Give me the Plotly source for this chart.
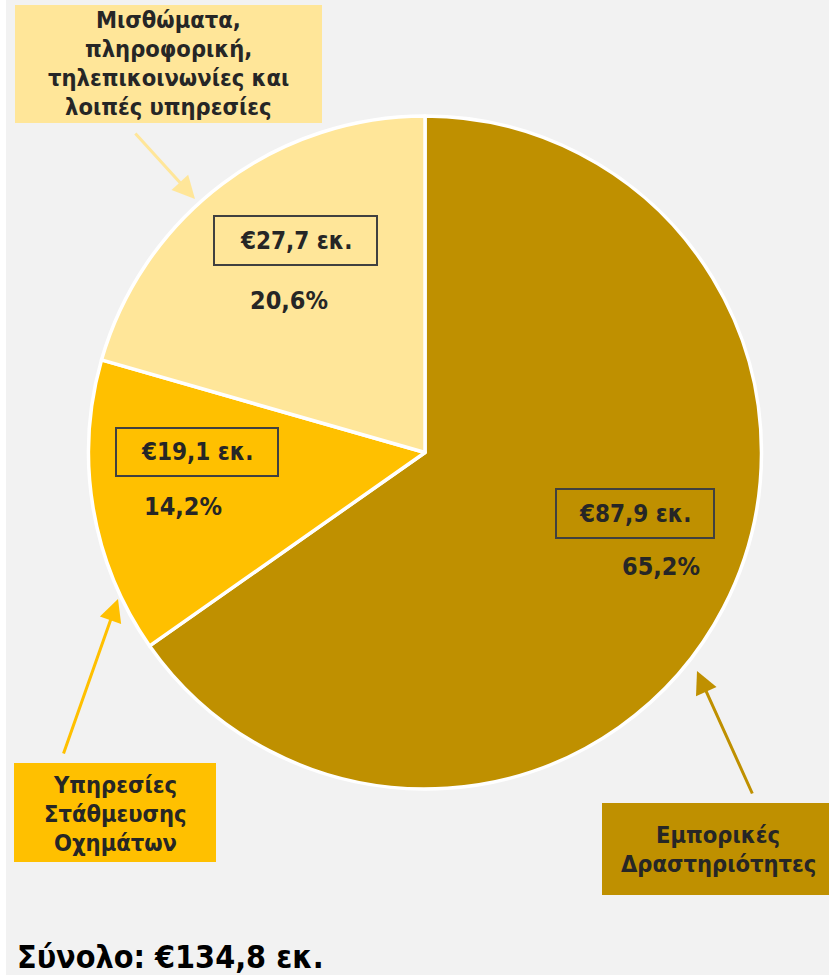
import plotly.graph_objects as go

# ---------------- data ----------------
categories = [
    "Εμπορικές<br>Δραστηριότητες",
    "Υπηρεσίες<br>Στάθμευσης<br>Οχημάτων",
    "Μισθώματα,<br>πληροφορική,<br>τηλεπικοινωνίες και<br>λοιπές υπηρεσίες",
]
values = [87.9, 19.1, 27.7]
amount_labels = ["€87,9 εκ.", "€19,1 εκ.", "€27,7 εκ."]
pct_labels = ["65,2%", "14,2%", "20,6%"]
total_label = "Σύνολο: €134,8 εκ."
colors = ["#BF9000", "#FFC000", "#FFE699"]

# ---------------- layout helpers ----------------
W, H = 829, 975
FONT = "DejaVu Sans Condensed, DejaVu Sans, Verdana, sans-serif"
TXT = "#262626"


def px(x):
    return x / W


def py(y):
    return 1 - y / H


fig = go.Figure()
fig.add_trace(go.Pie(
    labels=[c.replace("<br>", " ") for c in categories],
    values=values,
    sort=False,
    direction="clockwise",
    rotation=0,
    marker=dict(colors=colors, line=dict(color="white", width=3.5)),
    textinfo="none",
    hoverinfo="label+value+percent",
    showlegend=False,
    domain=dict(x=[px(88), px(762)], y=[py(789), py(116)]),
))

shapes = []
annotations = []

# left white strip
shapes.append(dict(type="rect", xref="paper", yref="paper", x0=0, x1=px(6), y0=0, y1=1,
                   fillcolor="white", line=dict(width=0), layer="below"))

# outer category boxes: (x0, y0, x1, y1, text-center x, text-center y)
outer = [
    (602, 803, 829, 895, 718, 849),
    (14, 763, 216, 862, 115, 814),
    (15, 5, 322, 123, 168, 63.5),
]
LINE_GAP = 29
# arrows: (head x, head y, tail x, tail y)
arrows = [
    (697, 671, 753, 795),
    (118, 599, 63, 755),
    (195, 199, 134, 132),
]
# inner amount boxes (x0, y0, x1, y1) and percentage centres
inner = [
    (556, 489, 714, 538),
    (116, 428, 278, 476),
    (214, 216, 377, 265),
]
pct_pos = [(661, 566), (183, 506), (289, 300)]

for i in range(len(values)):
    x0, y0, x1, y1, tx, ty = outer[i]
    shapes.append(dict(type="rect", xref="paper", yref="paper",
                       x0=px(x0), x1=px(x1), y0=py(y1), y1=py(y0),
                       fillcolor=colors[i], line=dict(width=0)))
    lines = categories[i].split("<br>")
    n = len(lines)
    for k, line in enumerate(lines):
        ly = ty + (k - (n - 1) / 2) * LINE_GAP
        annotations.append(dict(xref="paper", yref="paper", x=px(tx), y=py(ly),
                                text=f"<b>{line}</b>", showarrow=False,
                                font=dict(family=FONT, size=23.5, color=TXT),
                                xanchor="center", yanchor="middle"))
    hx, hy, tx2, ty2 = arrows[i]
    annotations.append(dict(xref="paper", yref="paper", x=px(hx), y=py(hy),
                            ax=tx2 - hx, ay=ty2 - hy, text="", showarrow=True,
                            arrowhead=2, arrowsize=1.5, arrowwidth=3,
                            arrowcolor=colors[i], standoff=0))
    bx0, by0, bx1, by1 = inner[i]
    shapes.append(dict(type="rect", xref="paper", yref="paper",
                       x0=px(bx0), x1=px(bx1), y0=py(by1), y1=py(by0),
                       fillcolor="rgba(0,0,0,0)", line=dict(color="#404040", width=2)))
    annotations.append(dict(xref="paper", yref="paper",
                            x=px((bx0 + bx1) / 2), y=py((by0 + by1) / 2),
                            text=f"<b>{amount_labels[i]}</b>", showarrow=False,
                            font=dict(family=FONT, size=24, color=TXT),
                            xanchor="center", yanchor="middle"))
    cx, cy = pct_pos[i]
    annotations.append(dict(xref="paper", yref="paper", x=px(cx), y=py(cy),
                            text=f"<b>{pct_labels[i]}</b>", showarrow=False,
                            font=dict(family=FONT, size=25, color=TXT),
                            xanchor="center", yanchor="middle"))

annotations.append(dict(xref="paper", yref="paper", x=px(15), y=py(957),
                        text=f"<b>{total_label}</b>", showarrow=False,
                        font=dict(family=FONT, size=32, color="black"),
                        xanchor="left", yanchor="middle"))

fig.update_layout(
    width=W, height=H, autosize=False,
    margin=dict(l=0, r=0, t=0, b=0),
    paper_bgcolor="#F2F2F2",
    plot_bgcolor="#F2F2F2",
    shapes=shapes,
    annotations=annotations,
)

fig.write_html(
    "out.html",
    config={"displayModeBar": False},
    post_script="document.body.style.margin='0';document.body.style.padding='0';"
                "document.body.style.overflow='hidden';",
)
